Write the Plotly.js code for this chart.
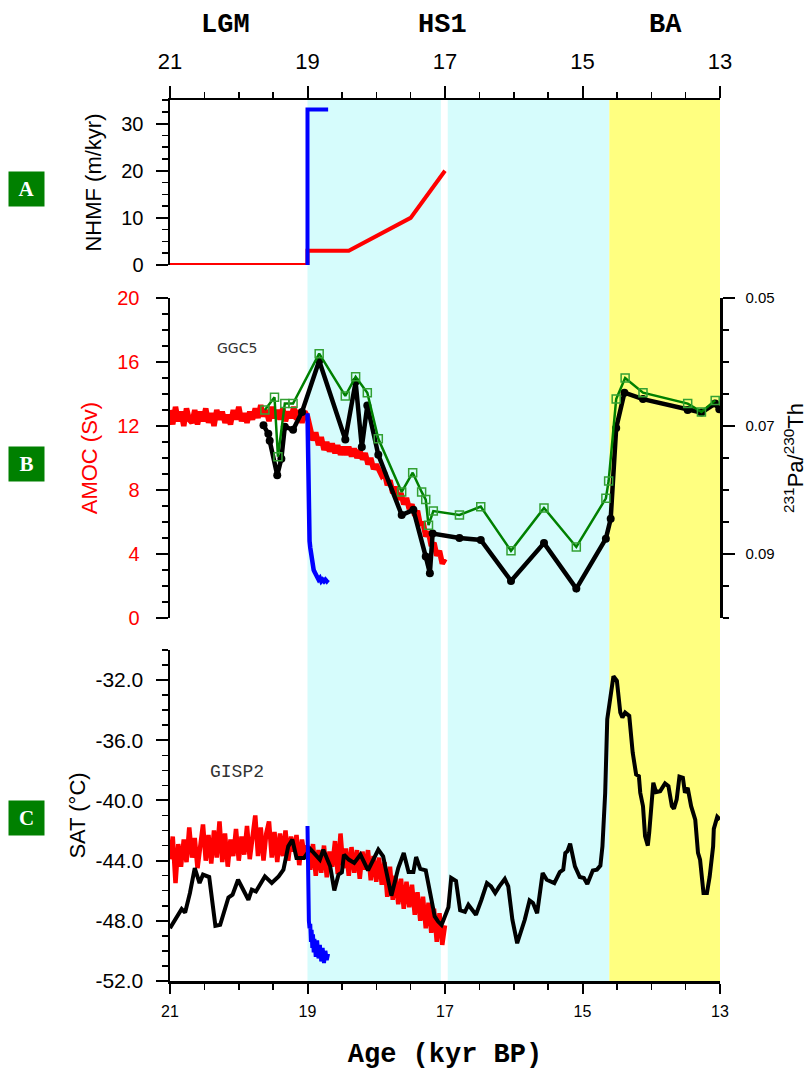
<!DOCTYPE html>
<html><head><meta charset="utf-8">
<script src="https://cdn.plot.ly/plotly-3.0.1.min.js"></script>
<style>html,body{margin:0;padding:0;background:#fff}#chart{width:809px;height:1070px}</style>
</head><body><div id="chart"></div>
<script>
// ---------------- DATA ----------------
const ageTicks = [21, 19, 17, 15, 13];
const periodLabels = ['LGM', 'HS1', 'BA'];
const periodAges = [20.2, 17.03, 13.8];
const shadeStart = [19.0, 16.96, 14.61];
const shadeEnd = [17.06, 14.61, 13.0];

// Panel A: NHMF (m/kyr)
const nhmfRedAge = [21.0, 19.0, 19.0, 18.4, 17.5, 17.0];
const nhmfRed = [0, 0, 3, 3, 10, 20];
const nhmfBlueAge = [19.0, 19.0, 18.7];
const nhmfBlue = [0, 33, 33];
const nhmfTicks = [0, 10, 20, 30];

// Model ages (kyr BP), shared by red AMOC and red SAT
const modelAge = [
  21.00,20.96,20.92,20.88,20.84,20.80,20.76,20.72,20.68,20.64,
  20.60,20.56,20.52,20.48,20.44,20.40,20.36,20.32,20.28,20.24,
  20.20,20.16,20.12,20.08,20.04,20.00,19.96,19.92,19.88,19.84,
  19.80,19.76,19.72,19.68,19.64,19.60,19.56,19.52,19.48,19.44,
  19.40,19.36,19.32,19.28,19.24,19.20,19.16,19.12,19.08,19.04,
  19.00,18.96,18.92,18.88,18.84,18.80,18.76,18.72,18.68,18.64,
  18.60,18.56,18.52,18.48,18.44,18.40,18.36,18.32,18.28,18.24,
  18.20,18.16,18.12,18.08,18.04,18.00,17.96,17.92,17.88,17.84,
  17.80,17.76,17.72,17.68,17.64,17.60,17.56,17.52,17.48,17.44,
  17.40,17.36,17.32,17.28,17.24,17.20,17.16,17.12,17.08,17.04,
  17.00];
const amocRed = [
  13.0,12.1,13.2,12.3,12.9,12.0,13.1,12.4,12.2,13.0,
  12.1,12.9,12.3,13.1,12.2,12.8,12.0,13.0,12.4,12.9,
  12.2,12.7,12.1,13.0,12.4,13.2,12.3,12.8,12.2,12.9,
  12.4,13.1,12.5,13.3,12.6,13.0,12.3,13.2,12.5,13.0,
  12.4,13.1,12.3,12.9,12.5,13.2,12.4,13.0,12.2,12.9,
  12.6,11.7,11.1,11.6,10.8,11.3,10.5,11.0,10.4,10.9,
  10.3,10.8,10.2,10.7,10.2,10.7,10.1,10.6,10.0,10.5,
  9.9,10.3,9.6,10.0,9.3,9.6,9.2,8.9,9.1,8.3,
  8.6,7.8,8.2,7.4,7.8,7.1,7.5,6.8,7.1,6.4,
  6.7,5.8,6.0,5.1,5.4,4.5,4.7,3.9,4.2,3.4,
  3.7];
const satRed = [
  -43.9,-42.4,-45.5,-42.9,-44.4,-42.6,-44.1,-41.8,-43.8,-42.5,
  -44.5,-42.7,-41.6,-44.0,-42.3,-44.2,-42.0,-43.8,-41.4,-44.1,
  -42.2,-44.4,-42.6,-43.7,-41.9,-44.0,-42.4,-43.6,-41.7,-43.9,
  -42.1,-41.0,-43.7,-41.8,-44.0,-42.2,-41.4,-43.8,-42.1,-44.1,
  -42.2,-43.7,-42.0,-44.0,-42.4,-43.4,-42.3,-44.3,-42.6,-43.8,
  -43.0,-44.6,-42.9,-45.0,-43.3,-44.8,-43.0,-45.1,-43.4,-44.4,
  -42.7,-44.9,-42.2,-44.5,-43.2,-45.0,-43.1,-44.8,-43.3,-45.2,
  -43.4,-44.6,-43.3,-45.3,-43.7,-45.4,-43.8,-45.6,-44.1,-46.4,
  -44.4,-46.6,-45.0,-46.9,-45.2,-47.2,-45.4,-47.1,-45.6,-47.6,
  -46.1,-48.0,-46.4,-48.5,-46.8,-48.8,-47.2,-49.4,-47.5,-49.6,
  -48.3];

// Blue model run
const blueAge = [19.00,18.99,18.98,18.97,18.96,18.95,18.94,18.93,18.92,18.91,
  18.90,18.88,18.86,18.84,18.82,18.80,18.78,18.76,18.74,18.72,18.70];
const amocBlue = [12.8,7.0,5.6,4.8,4.4,4.0,3.7,3.5,3.2,3.0,
  2.9,2.7,2.6,2.4,2.5,2.3,2.4,2.3,2.4,2.3,2.4];
const satBlue = [-41.7,-46.5,-48.0,-48.5,-48.2,-49.4,-48.6,-49.8,-48.9,-50.1,
  -49.2,-50.4,-49.3,-50.5,-49.6,-50.7,-49.8,-50.8,-50.0,-50.6,-50.2];
const amocTicks = [0, 4, 8, 12, 16, 20];

// GGC5 231Pa/230Th (two age models)
const ggcBlackAge = [19.64,19.57,19.55,19.44,19.38,19.33,19.21,19.08,18.83,18.45,
  18.30,18.21,18.13,17.97,17.63,17.46,17.28,17.22,17.18,16.79,
  16.48,16.04,15.56,15.09,14.66,14.59,14.51,14.39,14.12,13.47,
  13.27,13.07,13.01];
const ggcBlack = [0.0699,0.0712,0.0723,0.0777,0.0751,0.0701,0.0706,0.0678,0.0598,0.0721,
  0.0631,0.0733,0.0668,0.0745,0.0839,0.0831,0.0904,0.0930,0.0868,0.0875,
  0.0878,0.0942,0.0883,0.0954,0.0876,0.0845,0.0703,0.0648,0.0658,0.0675,
  0.0679,0.0665,0.0674];
const ggcGreenAge = [19.62,19.48,19.43,19.33,19.21,18.83,18.45,18.30,18.13,17.97,
  17.63,17.47,17.34,17.28,17.24,17.17,16.79,16.48,16.04,15.56,
  15.09,14.66,14.62,14.51,14.38,14.12,13.47,13.27,13.07];
const ggcGreen = [0.0675,0.0655,0.0748,0.0665,0.0665,0.0587,0.0653,0.0623,0.0648,0.0720,
  0.0803,0.0773,0.0803,0.0815,0.0855,0.0833,0.0839,0.0826,0.0895,0.0828,
  0.0889,0.0813,0.0786,0.0658,0.0625,0.0648,0.0665,0.0678,0.0660];
const paThTicks = [0.05, 0.07, 0.09];
const paThTickText = ['0.05', '0.07', '0.09'];

// GISP2 SAT (degC)
const gispAge = [21.00,20.83,20.78,20.71,20.64,20.57,20.52,20.43,20.34,20.27,
  20.15,20.09,20.01,19.93,19.86,19.81,19.75,19.62,19.52,19.42,
  19.35,19.28,19.22,19.16,19.05,18.96,18.82,18.77,18.67,18.61,
  18.55,18.50,18.47,18.40,18.32,18.23,18.12,17.97,17.90,17.78,
  17.68,17.60,17.53,17.46,17.42,17.36,17.28,17.15,17.10,17.05,
  17.00,16.95,16.91,16.84,16.78,16.71,16.66,16.55,16.47,16.39,
  16.33,16.27,16.21,16.13,16.08,16.02,15.95,15.84,15.77,15.72,
  15.66,15.58,15.52,15.41,15.33,15.28,15.25,15.22,15.18,15.11,
  15.04,14.98,14.93,14.85,14.79,14.74,14.71,14.67,14.64,14.60,
  14.55,14.50,14.45,14.42,14.38,14.32,14.27,14.22,14.18,14.16,
  14.12,14.09,14.05,14.03,13.97,13.93,13.87,13.80,13.75,13.70,
  13.67,13.63,13.59,13.54,13.51,13.47,13.42,13.36,13.32,13.29,
  13.24,13.19,13.15,13.10,13.09,13.04,13.00];
const gispSAT = [-48.49,-47.22,-47.45,-46.15,-44.49,-45.49,-44.93,-45.09,-48.33,-48.27,
  -46.45,-46.27,-45.27,-45.93,-46.60,-45.93,-46.05,-45.05,-45.49,-45.05,
  -44.60,-43.05,-42.60,-43.82,-43.82,-43.22,-43.93,-43.27,-44.38,-45.98,
  -44.93,-44.78,-43.60,-43.93,-44.15,-43.60,-44.65,-43.27,-43.71,-46.33,
  -44.49,-43.49,-44.76,-44.76,-43.76,-44.55,-44.65,-47.71,-48.05,-48.27,
  -47.71,-47.10,-45.15,-45.35,-47.30,-47.40,-46.93,-47.60,-46.60,-45.49,
  -45.71,-46.15,-45.71,-45.22,-45.71,-47.93,-49.49,-47.93,-46.65,-46.82,
  -47.49,-44.82,-45.27,-45.49,-44.76,-44.60,-43.49,-43.38,-42.87,-44.38,
  -45.09,-45.15,-45.55,-44.65,-44.60,-44.33,-43.05,-39.49,-34.60,-33.15,
  -31.75,-32.05,-34.16,-34.49,-34.16,-34.38,-36.82,-38.27,-38.38,-39.49,
  -40.38,-42.38,-43.00,-42.15,-38.82,-39.44,-39.38,-38.87,-39.05,-40.38,
  -40.55,-39.93,-38.42,-38.49,-39.49,-39.16,-40.38,-41.27,-43.49,-43.93,
  -46.15,-46.15,-45.05,-43.05,-41.89,-41.09,-41.27];
const satTicks = [-52, -48, -44, -40, -36, -32];
const satTickText = ['-52.0', '-48.0', '-44.0', '-40.0', '-36.0', '-32.0'];

const panelLetters = ['A', 'B', 'C'];

// ---------------- PLOT ----------------
const SANS = 'Liberation Sans, Arial, Helvetica, sans-serif';
const NARROW = 'Liberation Sans Narrow, Arial Narrow, Liberation Sans, sans-serif';
const MONO = 'Liberation Mono, Courier New, monospace';
const RED = '#ff0000', BLUE = '#0000ff', GREEN = '#008000';

const traces = [
  {x: nhmfRedAge, y: nhmfRed, xaxis: 'x2', yaxis: 'y', mode: 'lines', line: {color: RED, width: 4}},
  {x: nhmfBlueAge, y: nhmfBlue, xaxis: 'x2', yaxis: 'y', mode: 'lines', line: {color: BLUE, width: 4}},
  {x: modelAge, y: amocRed, xaxis: 'x', yaxis: 'y2', mode: 'lines', line: {color: RED, width: 5.5}},
  {x: blueAge, y: amocBlue, xaxis: 'x', yaxis: 'y2', mode: 'lines', line: {color: BLUE, width: 4.5}},
  {x: ggcBlackAge, y: ggcBlack, xaxis: 'x', yaxis: 'y3', mode: 'lines+markers',
    line: {color: '#000', width: 4.5}, marker: {symbol: 'circle', size: 8, color: '#000'}},
  {x: ggcGreenAge, y: ggcGreen, xaxis: 'x', yaxis: 'y3', mode: 'lines+markers',
    line: {color: GREEN, width: 2.5}, marker: {symbol: 'square-open', size: 8, color: '#33a033', line: {width: 1.5}}},
  {x: modelAge, y: satRed, xaxis: 'x', yaxis: 'y4', mode: 'lines', line: {color: RED, width: 4.5}},
  {x: gispAge, y: gispSAT, xaxis: 'x', yaxis: 'y4', mode: 'lines', line: {color: '#000', width: 4}},
  {x: blueAge, y: satBlue, xaxis: 'x', yaxis: 'y4', mode: 'lines', line: {color: BLUE, width: 4}}
];

const shadeColors = ['#d6fcfc', '#d6fcfc', '#ffff80'];
const shapes = shadeStart.map((s, i) => ({
  type: 'rect', xref: 'x', yref: 'paper', x0: s, x1: shadeEnd[i], y0: 0, y1: 1,
  fillcolor: shadeColors[i], line: {width: 0}, layer: 'below'
}));

const H = 881; // plot area height in px
const py = v => (981 - v) / H; // pixel row -> paper fraction
const annotations = [];
periodLabels.forEach((t, i) => annotations.push({
  text: '<b>' + t + '</b>', xref: 'x', x: periodAges[i], yref: 'paper', y: py(25),
  showarrow: false, font: {family: MONO, size: 27, color: '#000'}, xanchor: 'center', yanchor: 'middle'
}));
const letterRows = [189, 464, 818];
panelLetters.forEach((t, i) => annotations.push({
  text: '<b>' + t + '</b>', xref: 'paper', x: (26 - 170) / 550, yref: 'paper', y: py(letterRows[i]),
  showarrow: false, font: {family: 'Liberation Serif, Times New Roman, serif', size: 21, color: '#fff'},
  bgcolor: GREEN, width: 35, height: 34, borderpad: 0, xanchor: 'center', yanchor: 'middle'
}));
annotations.push({text: 'GGC5', xref: 'x', x: 20.02, yref: 'y2', y: 16.9, showarrow: false,
  font: {family: 'DejaVu Sans, sans-serif', size: 14, color: '#333'}});
annotations.push({text: 'GISP2', xref: 'x', x: 20.02, yref: 'y4', y: -38.1, showarrow: false,
  font: {family: MONO, size: 18, color: '#333'}});

const yCommon = {
  showgrid: false, zeroline: false, showline: true, linecolor: '#000', linewidth: 2.5,
  ticks: 'outside', ticklen: 12, tickwidth: 2, tickcolor: '#000', anchor: 'x'
};
const minorY = (d) => ({ticks: 'outside', ticklen: 6, tickwidth: 1.5, tickcolor: '#000', dtick: d, tickmode: 'linear'});

const layout = {
  width: 809, height: 1070,
  margin: {l: 170, r: 89, t: 100, b: 89},
  paper_bgcolor: '#fff', plot_bgcolor: 'rgba(0,0,0,0)',
  showlegend: false, hovermode: false,
  shapes: shapes, annotations: annotations,
  xaxis: {
    domain: [0, 1], anchor: 'y4', range: [21, 13], showgrid: false, zeroline: false,
    showline: true, linecolor: '#000', linewidth: 2.5,
    tickmode: 'array', tickvals: ageTicks, ticktext: ageTicks.map(String),
    ticks: 'outside', ticklen: 10, tickwidth: 2, tickcolor: '#000',
    minor: {ticks: 'outside', ticklen: 6, tickwidth: 1.5, tickcolor: '#000', tickmode: 'linear', tick0: 13, dtick: 0.5},
    tickfont: {family: NARROW, size: 16, color: '#000'}, ticklabelstandoff: 4,
    title: {text: '<b>Age (kyr BP)</b>', font: {family: MONO, size: 27, color: '#000'}, standoff: 28}
  },
  xaxis2: {
    domain: [0, 1], anchor: 'y', side: 'top', range: [21, 13], showgrid: false, zeroline: false,
    showline: true, linecolor: '#000', linewidth: 2.5,
    tickmode: 'array', tickvals: ageTicks, ticktext: ageTicks.map(String),
    ticks: 'outside', ticklen: 12, tickwidth: 2, tickcolor: '#000',
    minor: {ticks: 'outside', ticklen: 6, tickwidth: 1.5, tickcolor: '#000', tickmode: 'linear', tick0: 13, dtick: 0.5},
    tickfont: {family: NARROW, size: 22, color: '#000'}, ticklabelstandoff: 8
  },
  yaxis: Object.assign({}, yCommon, {
    domain: [py(265), 1], anchor: 'x2', range: [0, 35],
    tickmode: 'array', tickvals: nhmfTicks, ticktext: nhmfTicks.map(String),
    minor: Object.assign(minorY(2.5), {tick0: 0}),
    tickfont: {family: SANS, size: 20, color: '#000'}, ticklabelstandoff: 8,
    title: {text: 'NHMF (m/kyr)', font: {family: SANS, size: 22, color: '#000'}, standoff: 14}
  }),
  yaxis2: Object.assign({}, yCommon, {
    domain: [py(618), py(298)], range: [0, 20],
    tickmode: 'array', tickvals: amocTicks, ticktext: amocTicks.map(String),
    minor: Object.assign(minorY(1), {tick0: 0}),
    tickfont: {family: SANS, size: 20, color: RED}, ticklabelstandoff: 12,
    title: {text: 'AMOC (Sv)', font: {family: SANS, size: 22, color: RED}, standoff: 14}
  }),
  yaxis3: Object.assign({}, yCommon, {
    overlaying: 'y2', side: 'right', range: [0.1, 0.05],
    tickmode: 'array', tickvals: paThTicks, ticktext: paThTickText,
    minor: Object.assign(minorY(0.005), {tick0: 0.05}),
    tickfont: {family: SANS, size: 15, color: '#000'}, ticklabelstandoff: 8,
    title: {text: '<sup>231</sup>Pa/<sup>230</sup>Th', font: {family: SANS, size: 22, color: '#000'}, standoff: 14}
  }),
  yaxis4: Object.assign({}, yCommon, {
    domain: [0, py(650)], range: [-52, -30],
    tickmode: 'array', tickvals: satTicks, ticktext: satTickText,
    minor: Object.assign(minorY(1), {tick0: -52}),
    tickfont: {family: SANS, size: 21, color: '#000'}, ticklabelstandoff: 8,
    title: {text: 'SAT (°C)', font: {family: SANS, size: 22, color: '#000'}, standoff: 4}
  })
};

Plotly.newPlot('chart', traces, layout, {displayModeBar: false, staticPlot: true});
</script>
</body></html>
